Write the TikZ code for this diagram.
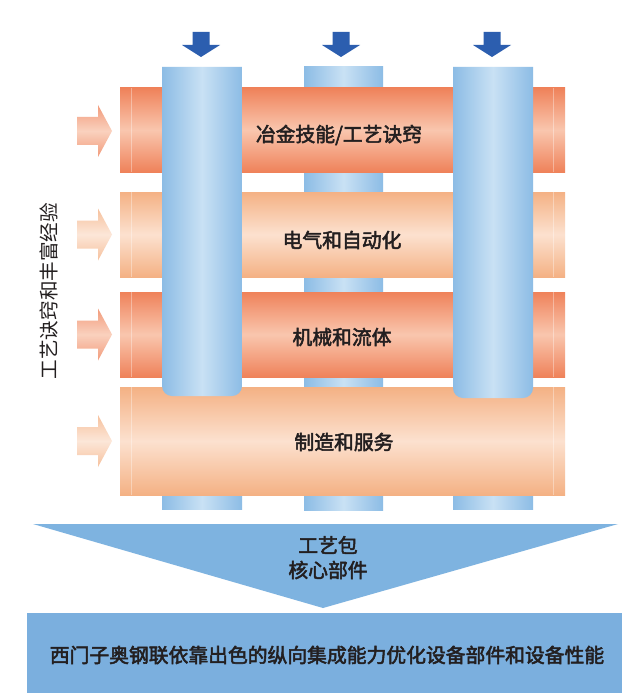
\documentclass[tikz,border=0pt]{standalone}
\usepackage{fontspec}
\newfontfamily\cjk{Noto Sans CJK SC}
\newfontfamily\cjkm{Noto Sans CJK SC}[FakeBold=2.6]
\definecolor{orD}{HTML}{EF825A}
\definecolor{orDm}{HTML}{F9C6AE}
\definecolor{orL}{HTML}{F4B184}
\definecolor{orLm}{HTML}{FCE1CF}
\definecolor{blE}{HTML}{8CBCE5}
\definecolor{blM}{HTML}{C9E1F4}
\definecolor{arrB}{HTML}{2C5EAF}
\definecolor{triB}{HTML}{7EB3E0}
\definecolor{botB}{HTML}{7BAFDE}
\definecolor{txt}{HTML}{231F20}
\tikzset{
  darkbar/.style={top color=orD, bottom color=orD, middle color=orDm},
  lightbar/.style={top color=orL, bottom color=orL, middle color=orLm},
  column/.style={left color=blE, right color=blE, middle color=blM},
  downarrow/.style={fill=arrB, draw=none},
  lbl/.style={font=\cjkm\fontsize{19.8}{22}\selectfont, text=txt, inner sep=0pt},
  sidelbl/.style={font=\cjk\fontsize{19.6}{22}\selectfont, text=txt, inner sep=0pt, rotate=90},
  endline/.style={white, opacity=0.35, line width=0.8pt}
}
\begin{document}
\begin{tikzpicture}[x=1pt,y=1pt]
\useasboundingbox (0,0) rectangle (625,-695);
\fill[white] (0,0) rectangle (625,-695);
% blue arrows at top
\foreach \c in {201,341,492}{
  \fill[downarrow] (\c-8.5,-32) -- (\c+8.5,-32) -- (\c+8.5,-45) -- (\c+19,-45) -- (\c,-57) -- (\c-19,-45) -- (\c-8.5,-45) -- cycle;
}
% middle column (behind bars)
\shade[column] (304,-67) rectangle (383,-510);
% lower stubs of outer columns
\shade[column] (162,-480) rectangle (242,-509);
\shade[column] (453,-480) rectangle (533,-509);
% bars
\shade[darkbar]  (120,-88)  rectangle (565,-172);
\shade[lightbar] (120,-192) rectangle (565,-277);
\shade[darkbar]  (120,-292) rectangle (565,-377);
\shade[lightbar] (120,-387) rectangle (565,-495);
\foreach \a/\b in {88/172,192/277,292/377,387/495}{
  \draw[endline] (131,-\a) -- (131,-\b);
  \draw[endline] (553,-\a) -- (553,-\b);
}
% outer columns (in front)
\shade[column] (162,-67) -- (242,-67) -- (242,-386) arc[start angle=0,end angle=-90,radius=10pt] -- (172,-396) arc[start angle=-90,end angle=-180,radius=10pt] -- cycle;
\shade[column] (453,-67) -- (533,-67) -- (533,-388) arc[start angle=0,end angle=-90,radius=10pt] -- (463,-398) arc[start angle=-90,end angle=-180,radius=10pt] -- cycle;
% orange side arrows
\foreach \cy/\st in {131/darkbar,234.5/lightbar,334.5/darkbar,441/lightbar}{
  \shade[\st, opacity=0.8] (77,-\cy+14) -- (98,-\cy+14) -- (98,-\cy+26) -- (112,-\cy) -- (98,-\cy-26) -- (98,-\cy-14) -- (77,-\cy-14) -- cycle;
}
% bar labels
\node[lbl] (t1) at (339,-135) {冶金技能/工艺诀窍};
\node[lbl] (t2) at (342,-240) {电气和自动化};
\node[lbl] (t3) at (342,-337) {机械和流体};
\node[lbl] (t4) at (344,-442) {制造和服务};
% side label
\node[sidelbl] (side) at (49,-291) {工艺诀窍和丰富经验};
% funnel triangle
\fill[triB] (33,-524) -- (618,-524) -- (323,-608) -- cycle;
\node[lbl] (p1) at (328,-545) {工艺包};
\node[lbl] (p2) at (328,-570) {核心部件};
% bottom box
\fill[botB] (27,-613) rectangle (622,-693);
\node[lbl] (bot) at (327,-655) {西门子奥钢联依靠出色的纵向集成能力优化设备部件和设备性能};
\end{tikzpicture}
\end{document}
